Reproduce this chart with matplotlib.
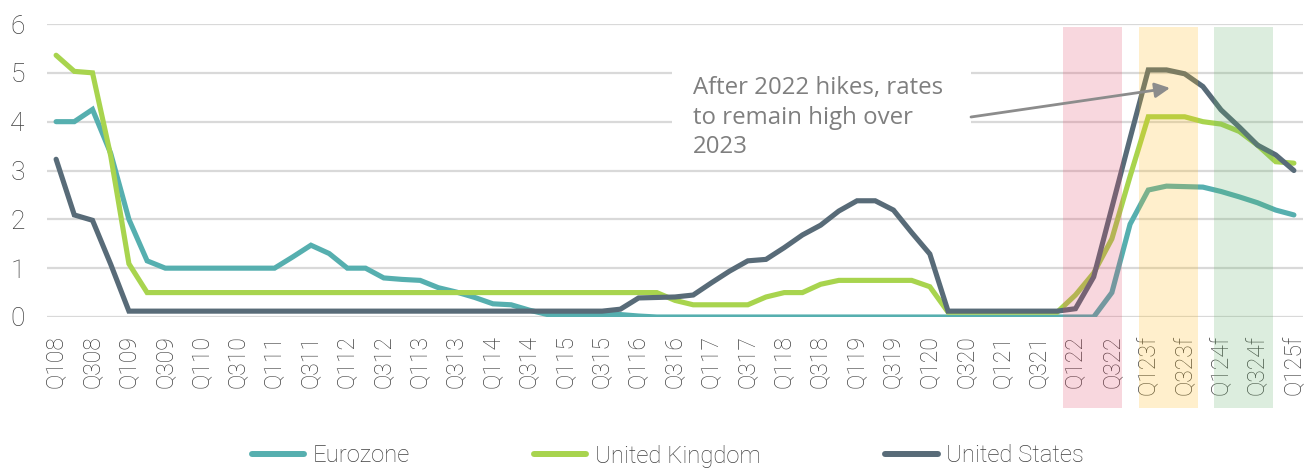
import matplotlib
matplotlib.use("Agg")
import matplotlib.pyplot as plt
from matplotlib.patches import Rectangle
import matplotlib.transforms as mtransforms
import numpy as np

# ---------------- data ----------------
tick_labels = ["Q108", "Q308", "Q109", "Q309", "Q110", "Q310", "Q111", "Q311",
               "Q112", "Q312", "Q113", "Q313", "Q114", "Q314", "Q115", "Q315",
               "Q116", "Q316", "Q117", "Q317", "Q118", "Q318", "Q119", "Q319",
               "Q120", "Q320", "Q121", "Q321", "Q122", "Q322", "Q123f", "Q323f",
               "Q124f", "Q324f", "Q125f"]

eurozone = [4.0, 4.0, 4.25, 3.35, 2.0, 1.15, 1.0, 1.0, 1.0, 1.0,
            1.0, 1.0, 1.0, 1.23, 1.47, 1.3, 1.0, 1.0, 0.8, 0.77,
            0.75, 0.6, 0.51, 0.4, 0.27, 0.25, 0.14, 0.05, 0.05, 0.05,
            0.05, 0.05, 0.02, 0.0, 0.0, 0.0, 0.0, 0.0, 0.0, 0.0,
            0.0, 0.0, 0.0, 0.0, 0.0, 0.0, 0.0, 0.0, 0.0, 0.0,
            0.0, 0.0, 0.0, 0.0, 0.0, 0.0, 0.0, 0.0, 0.5, 1.9,
            2.6, 2.68, 2.67, 2.66, 2.57, 2.46, 2.34, 2.19, 2.09]

united_kingdom = [5.36, 5.03, 5.0, 3.3, 1.09, 0.5, 0.5, 0.5, 0.5, 0.5,
                  0.5, 0.5, 0.5, 0.5, 0.5, 0.5, 0.5, 0.5, 0.5, 0.5,
                  0.5, 0.5, 0.5, 0.5, 0.5, 0.5, 0.5, 0.5, 0.5, 0.5,
                  0.5, 0.5, 0.5, 0.5, 0.34, 0.25, 0.25, 0.25, 0.25, 0.41,
                  0.5, 0.5, 0.67, 0.75, 0.75, 0.75, 0.75, 0.75, 0.62, 0.1,
                  0.1, 0.1, 0.1, 0.1, 0.1, 0.1, 0.45, 0.9, 1.6, 2.88,
                  4.1, 4.1, 4.1, 4.0, 3.95, 3.8, 3.52, 3.18, 3.15]

united_states = [3.23, 2.09, 1.98, 1.08, 0.12, 0.12, 0.12, 0.12, 0.12, 0.12,
                 0.12, 0.12, 0.12, 0.12, 0.12, 0.12, 0.12, 0.12, 0.12, 0.12,
                 0.12, 0.12, 0.12, 0.12, 0.12, 0.12, 0.12, 0.12, 0.12, 0.12,
                 0.12, 0.16, 0.39, 0.4, 0.41, 0.45, 0.7, 0.94, 1.15, 1.18,
                 1.42, 1.68, 1.88, 2.17, 2.38, 2.38, 2.19, 1.73, 1.29, 0.12,
                 0.12, 0.12, 0.12, 0.12, 0.12, 0.12, 0.17, 0.82, 2.24, 3.66,
                 5.06, 5.06, 4.98, 4.72, 4.24, 3.89, 3.52, 3.32, 3.0]

series_names = ["Eurozone", "United Kingdom", "United States"]
series_colors = ["#56AFAF", "#A8D44E", "#586B78"]

# highlighted periods (category index ranges)
highlight_spans = [(55.33, 58.57), (59.5, 62.75), (63.63, 66.87)]
highlight_colors = ["#E34969", "#FFBA17", "#64B169"]

annotation = "After 2022 hikes, rates\nto remain high over\n2023"

# ---------------- figure ----------------
plt.rcParams['font.family'] = ['Roboto', 'DejaVu Sans']
W, H = 1304, 470
fig = plt.figure(figsize=(W / 100, H / 100), dpi=100)
ax = fig.add_axes([47 / W, (H - 317) / H, 1256 / W, 293 / H])

x = np.arange(len(eurozone))
for vals, name, col in zip([eurozone, united_kingdom, united_states],
                           series_names, series_colors):
    ax.plot(x, vals, color=col, lw=3.7, label=name, solid_joinstyle='miter',
            solid_capstyle='round', zorder=3)

ax.set_xlim(-0.5, len(eurozone) - 0.5)
ax.set_ylim(0, 6)
ax.set_yticks(range(0, 7))
ax.set_xticks(x[::2])
ax.set_xticklabels(tick_labels, rotation=90, va='top', ha='center')
ax.tick_params(axis='both', length=0, colors='#404040')
ax.tick_params(axis='y', pad=16, labelsize=19)
ax.tick_params(axis='x', pad=13, labelsize=16.5)
for lbl in ax.get_xticklabels() + ax.get_yticklabels():
    lbl.set_fontweight('light')

ax.grid(axis='y', color='#D9D9D9', lw=1.6)
ax.set_axisbelow(True)
for s in ax.spines.values():
    s.set_visible(False)

# highlight bands, drawn over lines and extending below axis
trans = mtransforms.blended_transform_factory(ax.transData, ax.transAxes)
for (a, b), c in zip(highlight_spans, highlight_colors):
    ax.add_patch(Rectangle((a, -0.311), b - a, 0.99 + 0.311, transform=trans,
                           facecolor=c, alpha=0.22, edgecolor='none',
                           clip_on=False, zorder=4))

# white box behind annotation (breaks gridlines)
ax.add_patch(Rectangle((0.4976, 0.536), 0.7357 - 0.4976, 0.877 - 0.536,
                       transform=ax.transAxes, facecolor='white',
                       edgecolor='none', zorder=1.5))
ax.text((693 - 47) / 1256, (317 - 153) / 293, annotation, transform=ax.transAxes,
        ha='left', va='baseline', fontsize=17.3, color='#7F7F7F',
        family=['Open Sans', 'DejaVu Sans'], linespacing=1.3, zorder=5)
ax.annotate('', xy=((1170 - 47) / 1256, (317 - 88) / 293),
            xytext=((971 - 47) / 1256, (317 - 117) / 293),
            xycoords='axes fraction', textcoords='axes fraction',
            arrowprops=dict(arrowstyle='-|>,head_length=0.9,head_width=0.45',
                            color='#8C8C8C', lw=2, shrinkA=0, shrinkB=0),
            zorder=6)

leg = fig.legend(loc='center', bbox_to_anchor=(0.512, 14 / H), ncol=3,
                 frameon=False, handlelength=2.2,
                 handletextpad=0.35, columnspacing=5.2,
                 prop={'weight': 'light', 'size': 17.2})
for t in leg.get_texts():
    t.set_color('#404040')
for l in leg.get_lines():
    l.set_linewidth(4.3)

fig.savefig('out.png', dpi=100)
